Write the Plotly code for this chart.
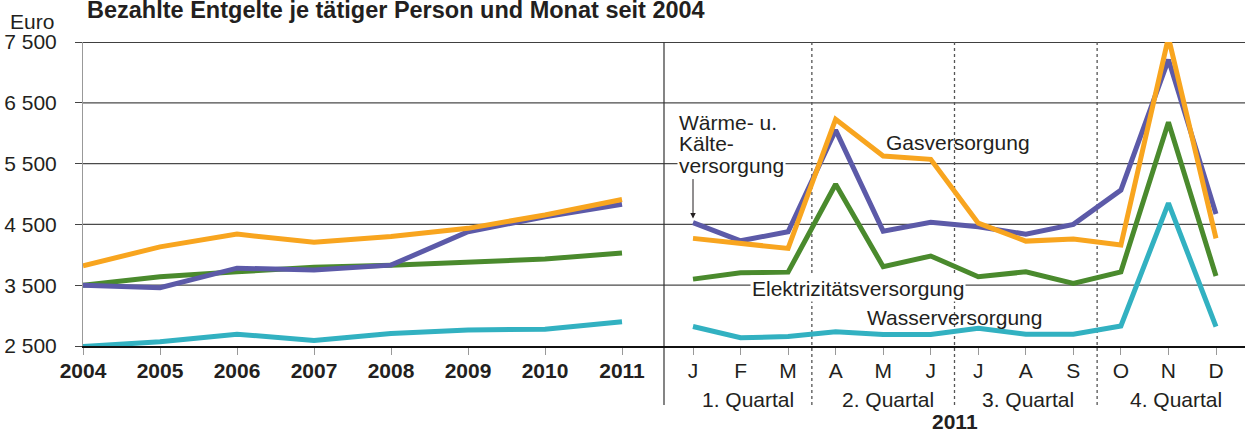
import plotly.graph_objects as go

# ---------------- data ----------------
years = [2004, 2005, 2006, 2007, 2008, 2009, 2010, 2011]
year_labels = [str(y) for y in years]
gas_year = [3820, 4130, 4340, 4205, 4300, 4435, 4655, 4910]
waerme_year = [3500, 3460, 3780, 3750, 3830, 4380, 4625, 4830]
elek_year = [3500, 3640, 3720, 3795, 3830, 3880, 3930, 4030]
wasser_year = [2490, 2570, 2695, 2590, 2705, 2765, 2775, 2900]

month_labels = ["J", "F", "M", "A", "M", "J", "J", "A", "S", "O", "N", "D"]
month_idx = list(range(len(month_labels)))
gas_month = [4270, 4190, 4105, 6230, 5625, 5570, 4520, 4225, 4260, 4160, 7575, 4270]
waerme_month = [4530, 4230, 4380, 6050, 4390, 4535, 4460, 4340, 4500, 5065, 7210, 4670]
elek_month = [3600, 3705, 3715, 5160, 3805, 3980, 3640, 3720, 3530, 3720, 6180, 3650]
wasser_month = [2820, 2635, 2655, 2735, 2690, 2690, 2790, 2695, 2695, 2830, 4850, 2820]

quarter_labels = ["1. Quartal", "2. Quartal", "3. Quartal", "4. Quartal"]
y_ticks = [2500, 3500, 4500, 5500, 6500, 7500]
y_ticktext = ["2 500", "3 500", "4 500", "5 500", "6 500", "7 500"]

title_text = "Bezahlte Entgelte je tätiger Person und Monat seit 2004"

# ---------------- style ----------------
FONT = "Liberation Sans, Arial, Helvetica, sans-serif"
C_GAS = "#F8A51F"
C_WAERME = "#5C5AA8"
C_ELEK = "#4A8A2D"
C_WASSER = "#32B1C1"
LW = 5

W, H = 1245, 432
ML, MR, MT, MB = 83, 0, 42, 86
PW = W - ML - MR
PH = H - MT - MB

fig = go.Figure()

series = [
    (wasser_year, wasser_month, C_WASSER),
    (elek_year, elek_month, C_ELEK),
    (waerme_year, waerme_month, C_WAERME),
    (gas_year, gas_month, C_GAS),
]
for yv, mv, col in series:
    fig.add_trace(go.Scatter(x=years, y=yv, mode="lines", xaxis="x", yaxis="y",
                             line=dict(color=col, width=LW), showlegend=False, hoverinfo="skip"))
    fig.add_trace(go.Scatter(x=month_idx, y=mv, mode="lines", xaxis="x2", yaxis="y",
                             line=dict(color=col, width=LW), showlegend=False, hoverinfo="skip"))

shapes = []
# horizontal grid lines
for v in y_ticks[1:]:
    shapes.append(dict(type="line", xref="paper", x0=0, x1=1, yref="y", y0=v, y1=v,
                       line=dict(color="#000" if v == y_ticks[-1] else "#4a4a4a",
                                 width=1.6 if v == y_ticks[-1] else 1.2),
                       layer="below"))
# divider between panels
bottom_ext = -(405 - (H - MB)) / PH
shapes.append(dict(type="line", xref="paper", x0=0.5, x1=0.5, yref="paper", y0=bottom_ext, y1=1,
                   line=dict(color="#333", width=1.2), layer="below"))
# quarter separators
for q in [2.5, 5.5, 8.5]:
    shapes.append(dict(type="line", xref="x2", x0=q, x1=q, yref="paper", y0=bottom_ext, y1=1,
                       line=dict(color="#555", width=1.3, dash="dot"), layer="below"))

def py(px):
    """paper y from pixel row"""
    return (H - MB - px) / PH

def px_x(px):
    return (px - ML) / PW

annotations = [
    dict(text=title_text, xref="paper", yref="paper", x=px_x(85), y=py(10), xanchor="left",
         yanchor="middle", showarrow=False, font=dict(family=FONT, size=23.5, color="#231f20", weight="bold")),
    dict(text="Euro", xref="paper", yref="paper", x=px_x(8), y=py(21), xanchor="left",
         yanchor="middle", showarrow=False, font=dict(family=FONT, size=21, color="#231f20")),
    dict(text="2011", xref="x2", yref="paper", x=5.5, y=py(421), xanchor="center",
         yanchor="middle", showarrow=False, font=dict(family=FONT, size=21, color="#231f20", weight="bold")),
]
for lab, xq in zip(quarter_labels, [1.15, 4.1, 7.05, 10.15]):
    annotations.append(dict(text=lab, xref="x2", yref="paper", x=xq, y=py(399), xanchor="center",
                            yanchor="middle", showarrow=False,
                            font=dict(family=FONT, size=21, color="#231f20")))

lab_font = dict(family=FONT, size=21, color="#231f20")
def vy(px):
    return 2500 + (H - MB - px) * 5000 / PH

annotations += [
    dict(text="Wärme- u.", xref="x2", yref="y", x=-0.34, y=vy(122), xanchor="left", yanchor="middle",
         showarrow=False, font=lab_font),
    dict(text="Kälte-", xref="x2", yref="y", x=-0.34, y=vy(143), xanchor="left", yanchor="middle",
         showarrow=False, font=lab_font),
    dict(text="versorgung", xref="x2", yref="y", x=-0.34, y=vy(165), xanchor="left", yanchor="middle",
         showarrow=False, font=lab_font, bgcolor="white", borderpad=1),
    dict(text="Gasversorgung", xref="x2", yref="y", x=5.57, y=vy(142), xanchor="center", yanchor="middle",
         showarrow=False, font=lab_font),
    dict(text="Elektrizitätsversorgung", xref="x2", yref="y", x=3.47, y=vy(288), xanchor="center",
         yanchor="middle", showarrow=False, font=lab_font, bgcolor="white", borderpad=1),
    dict(text="Wasserversorgung", xref="x2", yref="y", x=5.5, y=vy(317), xanchor="center",
         yanchor="middle", showarrow=False, font=lab_font),
    dict(text="", xref="x2", yref="y", x=month_idx[0], y=waerme_month[0], ax=0, ay=-45,
         showarrow=True, arrowhead=2, arrowsize=1.1, arrowwidth=1, arrowcolor="#231f20", standoff=4),
]

fig.update_layout(
    width=W, height=H,
    margin=dict(l=ML, r=MR, t=MT, b=MB, pad=0),
    paper_bgcolor="white", plot_bgcolor="white",
    font=dict(family=FONT, color="#231f20"),
    shapes=shapes, annotations=annotations,
    xaxis=dict(domain=[0, 0.5], range=[2004, 2004 + (PW * 0.5) / 77], tickvals=years, ticktext=year_labels,
               showgrid=False, zeroline=False, showline=True, linecolor="#111", linewidth=2.4,
               ticks="outside", ticklen=7, tickcolor="#999", tickwidth=1, anchor="y",
               tickfont=dict(family=FONT, size=21, color="#231f20", weight="bold"), ticklabelstandoff=-2),
    xaxis2=dict(domain=[0.5, 1], range=[-29 / 47.545, (PW * 0.5 - 29) / 47.545], tickvals=month_idx,
                ticktext=month_labels, showgrid=False, zeroline=False, showline=True, linecolor="#111",
                linewidth=2.4, ticks="outside", ticklen=7, tickcolor="#999", tickwidth=1, anchor="y",
                tickfont=dict(family=FONT, size=21, color="#231f20"), ticklabelstandoff=-2),
    yaxis=dict(domain=[0, 1], range=[2500, 7500], tickvals=y_ticks, ticktext=y_ticktext, showgrid=False,
               zeroline=False, showline=True, linecolor="#999", linewidth=1, ticks="outside", ticklen=7,
               tickcolor="#444", tickwidth=1, tickfont=dict(family=FONT, size=21, color="#231f20"),
               ticklabelstandoff=14),
)

fig.write_html("out.html", config={"displayModeBar": False},
               post_script="document.body.style.margin='0';document.body.style.overflow='hidden';")
